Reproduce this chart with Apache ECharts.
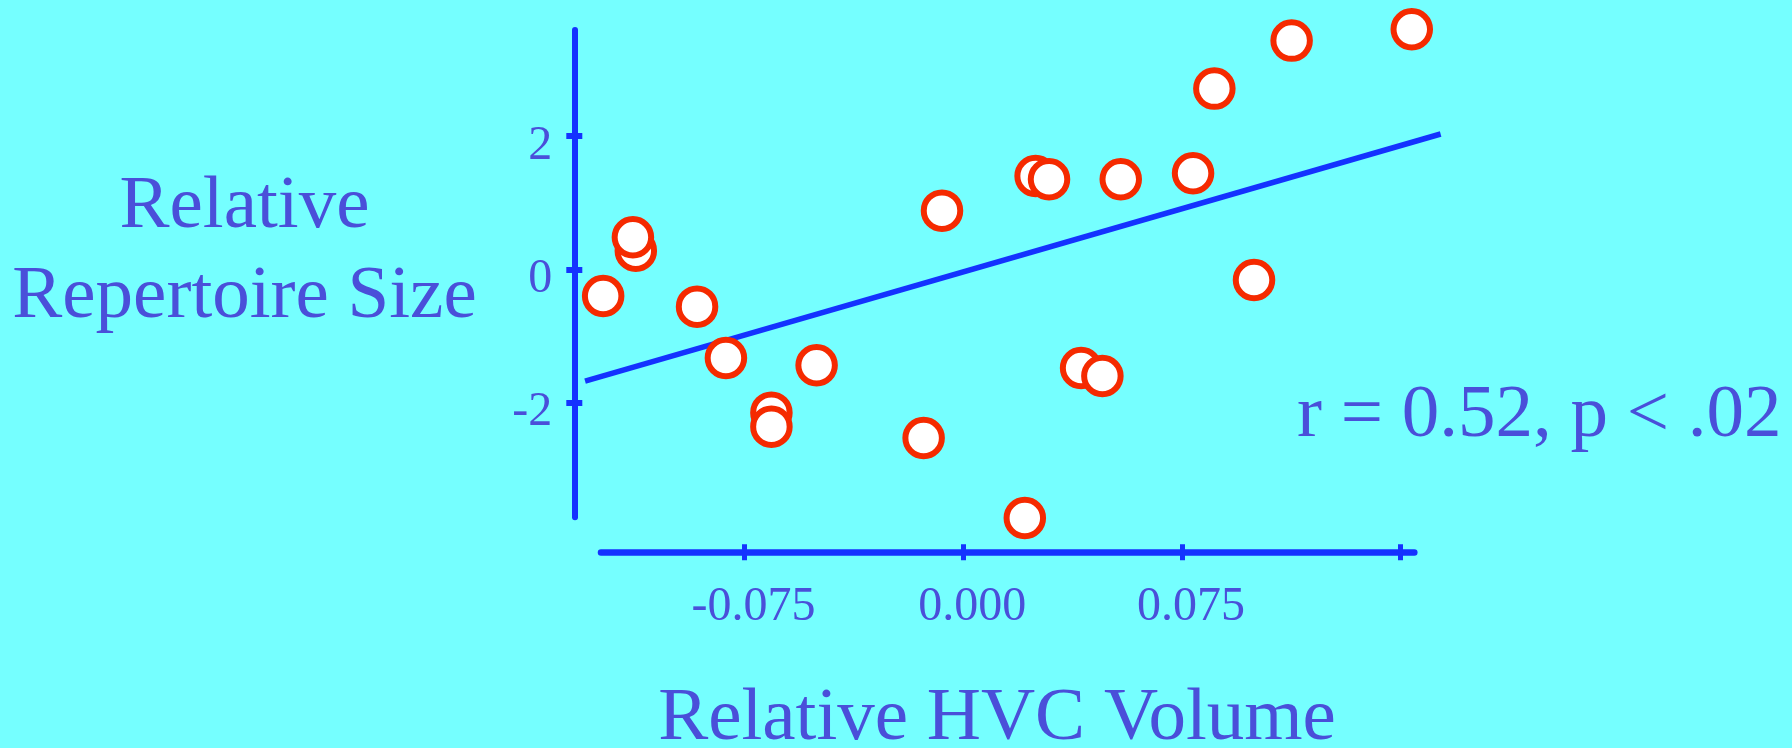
<!DOCTYPE html>
<html><head><meta charset="utf-8">
<script src="https://cdn.jsdelivr.net/npm/echarts@6/dist/echarts.min.js"></script>
<style>html,body{margin:0;padding:0;background:#75ffff}#c{width:1792px;height:748px}</style>
</head><body><div id="c"></div><script>
// ---- data ----
const hvcVolume      = [-0.1235, -0.1123, -0.1133, -0.0913, -0.0814, -0.0503, -0.0073, 0.0248, 0.0294, 0.0540, 0.0788, 0.0861, 0.1126, 0.1538, 0.0997, 0.0404, 0.0477, -0.0658, -0.0658, -0.0136, 0.0211];
const repertoireSize = [-0.40, 0.28, 0.48, -0.56, -1.33, -1.44, 0.88, 1.40, 1.35, 1.35, 1.44, 2.71, 3.43, 3.60, -0.16, -1.48, -1.60, -2.15, -2.36, -2.53, -3.73];
const fitX = [-0.1297, 0.1637];
const fitY = [-1.676, 2.029];
const xTicks = [-0.075, 0, 0.075, 0.15];
const xTickLabels = [-0.075, 0, 0.075];
const yTicks = [-2, 0, 2];
const yTitleLines = ['Relative', 'Repertoire Size'];
const xTitle = 'Relative HVC Volume';
const statText = 'r = 0.52, p < .02';

// ---- style ----
const BG = '#75ffff', AX = '#1432ff', TXT = '#4a4fd9', RED = '#f52a00';
const FONT = "'Liberation Serif','Times New Roman','DejaVu Serif',serif";
// visible axis extents (grid 1)
const X_MIN = -0.12425, X_MAX = 0.15466, Y_MIN = -3.72, Y_MAX = 3.589;
// wider data grid (grid 0), same scale, so marks outside the axis lines are drawn
const DX_MIN = -0.13830, DX_MAX = 0.17034, DY_MIN = -4.060, DY_MAX = 3.889;

const chart = echarts.init(document.getElementById('c'), null, {renderer: 'canvas'});
const pts = hvcVolume.map((x, i) => [x, repertoireSize[i]]);
const fit = fitX.map((x, i) => [x, fitY[i]]);

const hidden = {axisLine: {show: false, onZero: false}, axisTick: {show: false}, axisLabel: {show: false}, splitLine: {show: false}};
const xBase = {type: 'value', gridIndex: 1, min: X_MIN, max: X_MAX, position: 'bottom', offset: 35, splitLine: {show: false}};
const yBase = {type: 'value', gridIndex: 1, min: Y_MIN, max: Y_MAX, position: 'left', offset: 26.7, splitLine: {show: false}};

chart.setOption({
  backgroundColor: BG,
  animation: false,
  grid: [
    {left: 560, right: 332, top: 10, bottom: 208, containLabel: false},
    {left: 601, right: 377.7, top: 30, bottom: 230.7, containLabel: false}
  ],
  xAxis: [
    Object.assign({type: 'value', gridIndex: 0, min: DX_MIN, max: DX_MAX}, hidden),
    Object.assign({}, xBase, {
      axisLine: {show: true, onZero: false, lineStyle: {color: AX, width: 6.5}},
      axisTick: {show: true, customValues: xTicks, inside: false, length: 8, lineStyle: {color: AX, width: 5}},
      axisLabel: {show: true, customValues: xTickLabels, formatter: v => Number(v).toFixed(3),
        margin: 31, fontSize: 48, fontFamily: FONT, color: TXT, padding: [0, 0, 0, 18]}
    }),
    Object.assign({}, xBase, {
      axisLine: {show: false, onZero: false},
      axisTick: {show: true, customValues: xTicks, inside: true, length: 8, lineStyle: {color: AX, width: 5}},
      axisLabel: {show: false}
    })
  ],
  yAxis: [
    Object.assign({type: 'value', gridIndex: 0, min: DY_MIN, max: DY_MAX}, hidden),
    Object.assign({}, yBase, {
      axisLine: {show: true, onZero: false, lineStyle: {color: AX, width: 6}},
      axisTick: {show: true, customValues: yTicks, inside: false, length: 8, lineStyle: {color: AX, width: 6}},
      axisLabel: {show: true, customValues: yTicks, formatter: v => String(v),
        margin: 22, fontSize: 48, fontFamily: FONT, color: TXT, verticalAlign: 'top', lineHeight: 20}
    }),
    Object.assign({}, yBase, {
      axisLine: {show: false, onZero: false},
      axisTick: {show: true, customValues: yTicks, inside: true, length: 8, lineStyle: {color: AX, width: 6}},
      axisLabel: {show: false}
    })
  ],
  series: [
    {
      type: 'line', xAxisIndex: 0, yAxisIndex: 0, data: fit, clip: false,
      showSymbol: false, symbol: 'none', z: 2,
      lineStyle: {color: AX, width: 5.5, cap: 'butt'}
    },
    {
      type: 'scatter', xAxisIndex: 0, yAxisIndex: 0, data: pts, clip: false, z: 3,
      symbol: 'circle', symbolSize: 36.5,
      itemStyle: {color: '#ffffff', borderColor: RED, borderWidth: 6, opacity: 1}
    }
  ],
  graphic: [
    {type: 'text', x: 244.5, y: 207, style: {text: yTitleLines[0], fontSize: 75, fontFamily: FONT, fill: TXT, align: 'center', verticalAlign: 'middle'}},
    {type: 'text', x: 244.5, y: 297, style: {text: yTitleLines[1], fontSize: 75, fontFamily: FONT, fill: TXT, align: 'center', verticalAlign: 'middle'}},
    {type: 'text', x: 997, y: 719, style: {text: xTitle, fontSize: 75, fontFamily: FONT, fill: TXT, align: 'center', verticalAlign: 'middle'}},
    {type: 'text', x: 1297, y: 416, style: {text: statText, fontSize: 75, fontFamily: FONT, fill: TXT, align: 'left', verticalAlign: 'middle'}}
  ]
});
</script></body></html>
